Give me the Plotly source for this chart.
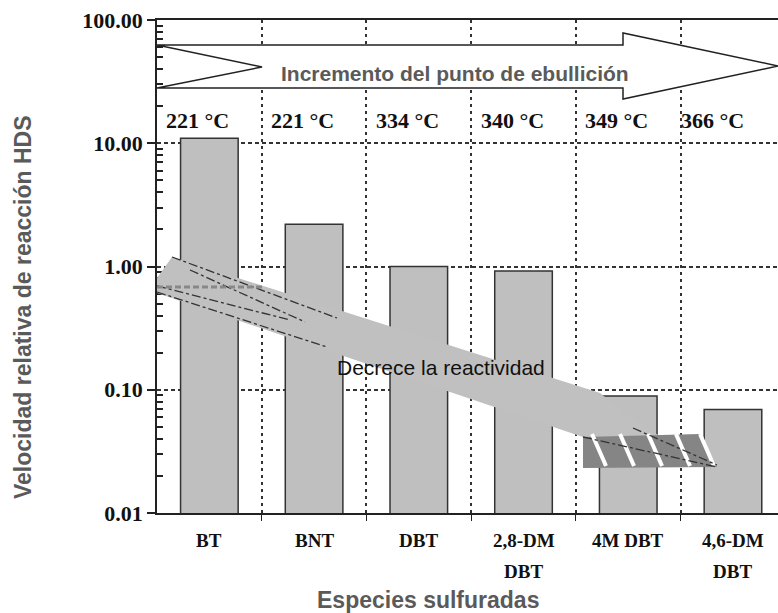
import plotly.graph_objects as go

species = ["BT", "BNT", "DBT", "2,8-DM<br>DBT", "4M DBT", "4,6-DM<br>DBT"]
rates = [11.0, 2.2, 1.0, 0.92, 0.089, 0.069]
temps = ["221 °C", "221 °C", "334 °C", "340 °C", "349 °C", "366 °C"]
ytick_vals = [0.01, 0.1, 1, 10, 100]
ytick_text = ["0.01", "0.10", "1.00", "10.00", "100.00"]

W, H = 778, 613
L, R, T, B = 157, 0, 20, 100
PW, PH = W - L - R, H - T - B


def px(x):
    return (x - L) / PW


def py(y):
    return (H - B - y) / PH


def path(pts):
    s = "M " + " L ".join(f"{px(x):.4f},{py(y):.4f}" for x, y in pts) + " Z"
    return s


SERIF = "Liberation Serif"
SANS = "Liberation Sans"

fig = go.Figure()
fig.add_trace(go.Bar(
    x=list(range(len(species))), y=rates, width=0.55,
    marker=dict(color="#bfbfbf", line=dict(color="#333", width=1.5)),
))

minor_vals = [d * 10 ** k for k in range(-2, 2) for d in range(2, 10)]

fig.update_layout(
    width=W, height=H,
    margin=dict(l=L, r=R, t=T, b=B),
    plot_bgcolor="white", paper_bgcolor="white",
    showlegend=False,
    xaxis=dict(
        range=[-0.5, 5.43],
        tickvals=[i + 0.5 for i in range(len(species))], showticklabels=False,
        ticks="outside", ticklen=6, tickcolor="#222", tickwidth=1.2,
        showline=True, linecolor="#222", linewidth=1.5, mirror=True,
        showgrid=True, gridcolor="#333", gridwidth=1.5, griddash="3px,4px",
        zeroline=False,
    ),
    yaxis=dict(
        type="log", range=[-2, 2],
        tickvals=ytick_vals, ticktext=ytick_text,
        ticks="outside", ticklen=8, tickcolor="#222", tickwidth=1.5,
        showline=True, linecolor="#222", linewidth=1.5,
        showgrid=True, gridcolor="#333", gridwidth=1.5, griddash="4px,3px",
        tickfont=dict(family=SERIF, size=22, color="#111", weight="bold"),
        minor=dict(tickvals=minor_vals, ticks="inside", ticklen=6,
                   tickcolor="#222", showgrid=False),
        zeroline=False,
    ),
)

shapes = []
# top arrow (boiling point increase)
shapes.append(dict(type="path", xref="paper", yref="paper", layer="above",
                   path=path([(157, 45), (623, 45), (623, 33), (778, 66), (623, 99),
                              (623, 88), (157, 88), (262, 67)]),
                   fillcolor="white", line=dict(color="#222", width=1.5)))
# big gray arrow (reactivity decrease)
shapes.append(dict(type="path", xref="paper", yref="paper", layer="above",
                   path=path([(172, 257), (600, 393), (640, 425), (717, 467),
                              (583, 437), (157, 293), (157, 278)]),
                   fillcolor="#c0c0c0", line=dict(width=0)))
# dark hatched tip region
shapes.append(dict(type="path", xref="paper", yref="paper", layer="above",
                   path=path([(583, 437), (700, 434), (717, 467), (583, 468)]),
                   fillcolor="#858585", line=dict(width=0)))
for xs in [592, 620, 648, 676, 700]:
    shapes.append(dict(type="line", xref="paper", yref="paper", layer="above",
                       x0=px(xs), y0=py(434), x1=px(xs + 14), y1=py(466),
                       line=dict(color="white", width=4)))
# dash-dot streaks
for (x0, y0, x1, y1) in [(172, 257, 337, 318), (157, 292, 327, 347),
                         (190, 270, 305, 322), (157, 286, 290, 320),
                         (583, 437, 717, 467), (633, 428, 717, 465)]:
    shapes.append(dict(type="line", xref="paper", yref="paper", layer="above",
                       x0=px(x0), y0=py(y0), x1=px(x1), y1=py(y1),
                       line=dict(color="#333", width=1.3, dash="dashdot")))
shapes.append(dict(type="line", xref="paper", yref="paper", layer="above",
                   x0=px(157), y0=py(287), x1=px(262), y1=py(287),
                   line=dict(color="#888", width=3, dash="6px,3px")))
fig.update_layout(shapes=shapes)

ann = []
ann.append(dict(text="<b>Incremento del punto de ebullición</b>", xref="paper", yref="paper",
                x=px(455), y=py(73), xanchor="center", yanchor="middle", showarrow=False,
                font=dict(family=SANS, size=21, color="#5a5a5a")))
ann.append(dict(text="Decrece la reactividad", xref="paper", yref="paper",
                x=px(441), y=py(368), xanchor="center", yanchor="middle", showarrow=False,
                font=dict(family=SANS, size=21, color="#111")))
for i, t in enumerate(temps):
    off = 0.07 if i < 5 else -0.02
    ann.append(dict(text=t, xref="x", yref="paper",
                    x=i - 0.5 + off, y=py(120), xanchor="left", yanchor="middle",
                    showarrow=False,
                    font=dict(family=SERIF, size=22, color="#111", weight="bold")))
# category labels (one annotation per line)
for i, name in enumerate(species):
    for j, line in enumerate(name.split("<br>")):
        ann.append(dict(text=line, xref="x", yref="paper",
                        x=i, y=py(540 + 31 * j), xanchor="center", yanchor="middle",
                        showarrow=False,
                        font=dict(family=SERIF, size=19, color="#111", weight="bold")))
ann.append(dict(text="Velocidad relativa de reacción HDS", xref="paper", yref="paper",
                x=px(23), y=py(307), xanchor="center", yanchor="middle",
                textangle=-90, showarrow=False,
                font=dict(family=SANS, size=23, color="#5a5a5a", weight="bold")))
ann.append(dict(text="Especies sulfuradas", xref="paper", yref="paper",
                x=px(428), y=py(600), xanchor="center", yanchor="middle", showarrow=False,
                font=dict(family=SANS, size=23, color="#5a5a5a", weight="bold")))
fig.update_layout(annotations=ann)

fig.write_html("out.html")
